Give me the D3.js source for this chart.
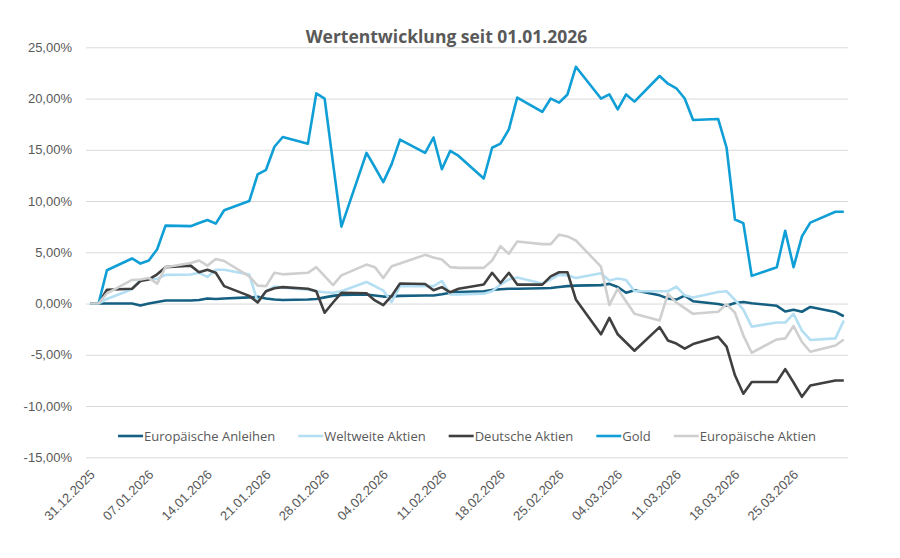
<!DOCTYPE html>
<html>
<head>
<meta charset="utf-8">
<script src="https://cdn.jsdelivr.net/npm/d3@7"></script>
<style>
  body { margin: 0; background: #fff; }
  svg { font-family: "Open Sans", sans-serif; }
  .grid line { stroke: #d9d9d9; stroke-width: 1; }
  .lbl { fill: #595959; font-size: 13px; }
</style>
</head>
<body>
<script>
// trading days shown in the chart
const dates = [
  "2025-12-31","2026-01-01","2026-01-02","2026-01-05","2026-01-06","2026-01-07","2026-01-08","2026-01-09",
  "2026-01-12","2026-01-13","2026-01-14","2026-01-15","2026-01-16","2026-01-19","2026-01-20","2026-01-21",
  "2026-01-22","2026-01-23","2026-01-26","2026-01-27","2026-01-28","2026-01-29","2026-01-30","2026-02-02",
  "2026-02-03","2026-02-04","2026-02-05","2026-02-06","2026-02-09","2026-02-10","2026-02-11","2026-02-12",
  "2026-02-13","2026-02-16","2026-02-17","2026-02-18","2026-02-19","2026-02-20","2026-02-23","2026-02-24",
  "2026-02-25","2026-02-26","2026-02-27","2026-03-02","2026-03-03","2026-03-04","2026-03-05","2026-03-06",
  "2026-03-09","2026-03-10","2026-03-11","2026-03-12","2026-03-13","2026-03-16","2026-03-17","2026-03-18",
  "2026-03-19","2026-03-20","2026-03-23","2026-03-24","2026-03-25","2026-03-26","2026-03-27","2026-03-30",
  "2026-03-31"
];

// performance in percent
const europAnleihen = [
  0, 0, 0, 0, -0.2, 0, 0.15, 0.3,
  0.3, 0.35, 0.5, 0.45, 0.5, 0.6, 0.65, 0.5,
  0.4, 0.35, 0.4, 0.45, 0.6, 0.75, 0.85, 0.88,
  0.78, 0.68, 0.7, 0.75, 0.78, 0.78, 0.9, 1.05,
  1.12, 1.2, 1.33, 1.4, 1.45, 1.45, 1.5, 1.52,
  1.62, 1.7, 1.75, 1.8, 1.92, 1.62, 1.05, 1.3,
  0.8, 0.5, 0.38, 0.78, 0.22, -0.05, -0.22, 0.06,
  0.15, 0.03, -0.22, -0.78, -0.6, -0.8, -0.33, -0.82,
  -1.24
];
const weltAktien = [
  0, 0, 0.45, 1.4, 2.3, 2.4, 2.4, 2.8,
  2.83, 3.0, 2.6, 3.3, 3.3, 2.83, 0.15, 1.2,
  1.65, 1.55, 1.35, 1.2, 1.1, 1.05, 1.2, 2.1,
  1.7, 1.27, 0.15, 1.7, 1.7, 1.7, 2.2, 0.9,
  0.9, 0.95, 1.2, 1.85, 2.35, 2.55, 1.95, 2.35,
  2.8, 2.75, 2.5, 2.95, 2.25, 2.45, 2.3, 1.2,
  1.2, 1.2, 1.65, 0.8, 0.6, 1.12, 1.2, 0.35,
  -0.6, -2.25, -1.85, -1.85, -1.0, -2.65, -3.55, -3.4,
  -1.65
];
const deutscheAktien = [
  0, 0, 1.35, 1.45, 2.2, 2.35, 2.85, 3.55,
  3.7, 3.05, 3.3, 3.0, 1.7, 0.75, 0.1, 1.2,
  1.5, 1.6, 1.45, 1.2, -0.9, 0.1, 1.05, 1.0,
  0.3, -0.15, 0.75, 1.95, 1.9, 1.3, 1.6, 1.1,
  1.45, 1.85, 3.0, 2.0, 3.0, 1.85, 1.85, 2.65,
  3.05, 3.05, 0.4, -3.0, -1.4, -3.0, -3.8, -4.6,
  -2.3, -3.6, -3.9, -4.4, -3.95, -3.25, -4.2, -7.0,
  -8.8, -7.65, -7.65, -6.4, -7.7, -9.1, -8.0, -7.5,
  -7.5
];
const gold = [
  0, 0, 3.25, 4.4, 3.9, 4.2, 5.3, 7.6,
  7.55, 7.85, 8.15, 7.8, 9.1, 10.0, 12.6, 13.05,
  15.3, 16.25, 15.6, 20.5, 20.0, 13.7, 7.5, 14.7,
  13.3, 11.85, 13.6, 16.0, 14.7, 16.2, 13.1, 14.9,
  14.4, 12.2, 15.2, 15.6, 17.0, 20.1, 18.7, 20.0,
  19.6, 20.4, 23.1, 20.0, 20.4, 18.95, 20.4, 19.7,
  22.2, 21.45, 21.0, 20.0, 17.9, 18.0, 15.2, 8.2,
  7.85, 2.7, 3.55, 7.1, 3.55, 6.55, 7.9, 8.95,
  8.95
];
const europAktien = [
  0, 0, 1.0, 2.3, 2.35, 2.5, 1.95, 3.55,
  3.95, 4.2, 3.7, 4.35, 4.15, 2.65, 1.75, 1.7,
  3.0, 2.85, 3.0, 3.55, 2.67, 1.8, 2.75, 3.8,
  3.55, 2.5, 3.65, 3.9, 4.75, 4.5, 4.3, 3.55,
  3.48, 3.48, 4.2, 5.6, 4.85, 6.05, 5.8, 5.8,
  6.72, 6.55, 6.15, 3.6, -0.15, 1.45, 0.2, -1.0,
  -1.65, 0.95, 0.1, -0.45, -1.0, -0.8, -0.05, -0.9,
  -3.1, -4.8, -3.5, -3.4, -2.2, -3.75, -4.7, -4.1,
  -3.5
];

const seriesNames = ["Europäische Anleihen", "Weltweite Aktien", "Deutsche Aktien", "Gold", "Europäische Aktien"];
const seriesValues = [europAnleihen, weltAktien, deutscheAktien, gold, europAktien];
const seriesColors = ["#156082", "#b4dff3", "#404040", "#0f9ed5", "#cfcfcf"];

const tickDates = ["2025-12-31","2026-01-07","2026-01-14","2026-01-21","2026-01-28","2026-02-04",
  "2026-02-11","2026-02-18","2026-02-25","2026-03-04","2026-03-11","2026-03-18","2026-03-25"];
const yTicks = [-15, -10, -5, 0, 5, 10, 15, 20, 25];

const W = 900, H = 558;
const plotLeft = 86, plotRight = 848, plotTop = 47.3, plotBottom = 457.3;

const parse = d3.utcParse("%Y-%m-%d");
const de = d3.formatLocale({decimal: ",", thousands: ".", grouping: [3], currency: ["", " €"], minus: "-"});
const pct = d => de.format(".2f")(d) + "%";
const fmtDate = d3.utcFormat("%d.%m.%Y");

const dayMs = 864e5;
const x = d3.scaleUtc()
    .domain([+parse(dates[0]) - dayMs / 2, +parse(dates[dates.length - 1]) + dayMs / 2])
    .range([plotLeft, plotRight]);
const y = d3.scaleLinear()
    .domain([-15, 25])
    .range([plotBottom, plotTop]);

const svg = d3.select("body").append("svg")
    .attr("width", W)
    .attr("height", H);

// title
svg.append("text")
    .attr("x", 446.5)
    .attr("y", 43.3)
    .attr("text-anchor", "middle")
    .style("font-size", "17.5px")
    .style("font-weight", "bold")
    .style("fill", "#595959")
    .text("Wertentwicklung seit 01.01.2026");

// horizontal grid + y labels
const yAxis = svg.append("g")
    .attr("class", "grid")
    .attr("transform", "translate(" + plotLeft + ",0)")
    .call(d3.axisLeft(y).tickValues(yTicks).tickSize(-(plotRight - plotLeft)).tickPadding(14).tickFormat(pct));
yAxis.select(".domain").remove();
yAxis.selectAll("text").attr("class", "lbl").attr("fill", null);

// x labels, rotated
const xAxis = svg.append("g")
    .attr("transform", "translate(0," + plotBottom + ")")
    .call(d3.axisBottom(x).tickValues(tickDates.map(parse)).tickSize(0).tickFormat(fmtDate));
xAxis.select(".domain").remove();
xAxis.selectAll("text")
    .attr("class", "lbl")
    .attr("fill", null)
    .attr("text-anchor", "end")
    .attr("y", 0)
    .attr("dy", 0)
    .attr("transform", "translate(5,18) rotate(-45)");

// lines
const line = d3.line()
    .x((d, i) => x(parse(dates[i])))
    .y(d => y(d));

seriesValues.forEach(function(vals, k) {
  svg.append("path")
      .datum(vals)
      .attr("fill", "none")
      .attr("stroke", seriesColors[k])
      .attr("stroke-width", 2.6)
      .attr("stroke-linejoin", "round")
      .attr("d", line);
});

// legend, centred on the plot area
const legend = svg.append("g").attr("transform", "translate(0,436)");
const items = legend.selectAll("g").data(seriesNames).enter().append("g");
items.append("line")
    .attr("x1", 0).attr("x2", 25)
    .attr("stroke", (d, i) => seriesColors[i])
    .attr("stroke-width", 2.6);
items.append("text")
    .attr("class", "lbl")
    .attr("x", 26)
    .attr("dy", "0.35em")
    .text(d => d);
let pos = 0;
const offsets = [];
items.each(function() {
  offsets.push(pos);
  pos += 26 + d3.select(this).select("text").node().getComputedTextLength() + 23;
});
const total = pos - 23;
const start = (plotLeft + plotRight) / 2 - total / 2;
items.attr("transform", (d, i) => "translate(" + (start + offsets[i]) + ",0)");
</script>
</body>
</html>
